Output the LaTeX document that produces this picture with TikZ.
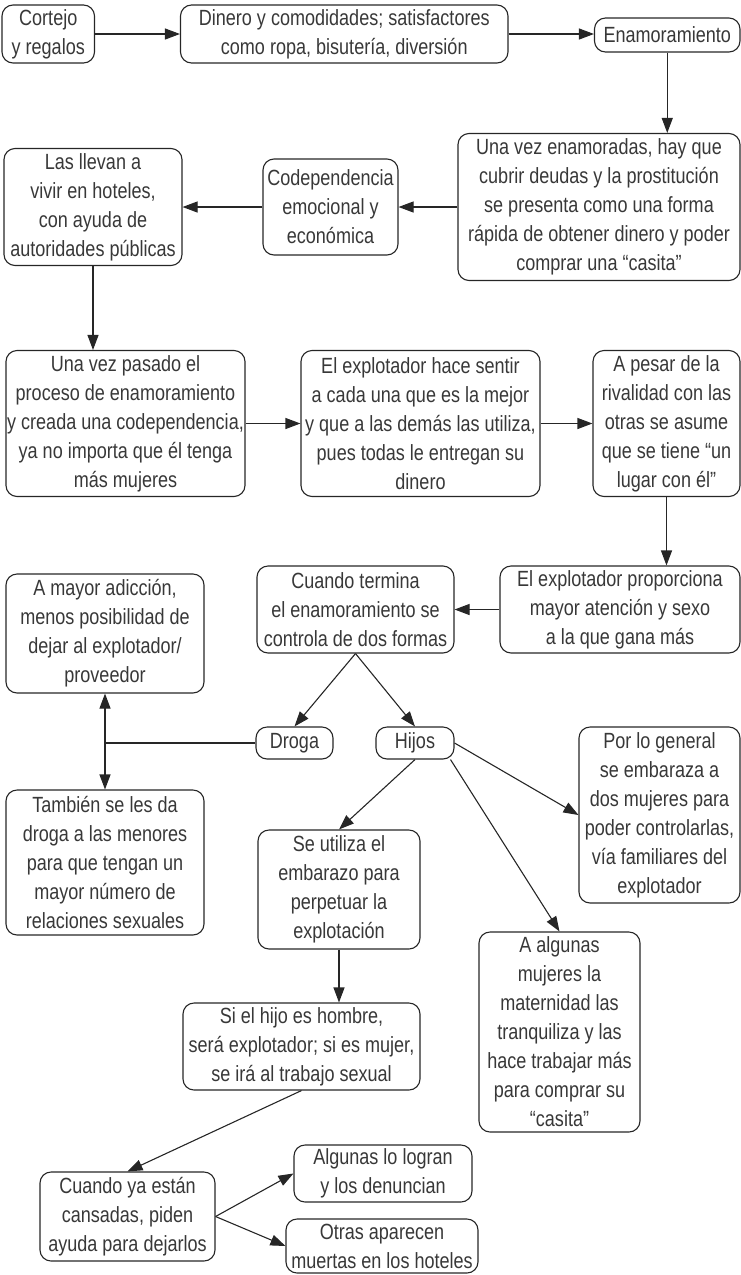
\documentclass[tikz,border=0pt]{standalone}
\usepackage{fontspec}
\setmainfont[FakeStretch=0.82]{Liberation Sans}
\usetikzlibrary{arrows.meta}
\begin{document}
\begin{tikzpicture}[x=1pt,y=-1pt,
  every node/.style={text=black!78},
  box/.style={draw=black!85, line width=1.1pt, rounded corners=11pt, align=center, inner sep=0pt,
    font=\fontsize{22}{29}\selectfont},
  arr/.style={draw=black!85, line width=1.1pt, -{Triangle[length=15pt,width=11pt]}},
  ln/.style={draw=black!85, line width=1.1pt}]
\useasboundingbox (0,0) rectangle (741,1275);
\node[box, minimum width=92.5, minimum height=58] (cortejo) at (48.25,34) {Cortejo\\y regalos};
\node[box, minimum width=327.5, minimum height=58] (dinero) at (344.25,34) {Dinero y comodidades; satisfactores\\como ropa, bisutería, diversión};
\node[box, minimum width=145.5, minimum height=34] (enam) at (667.25,35) {Enamoramiento};
\node[box, minimum width=282, minimum height=147] (unavez) at (599,207) {Una vez enamoradas, hay que\\cubrir deudas y la prostitución\\se presenta como una forma\\rápida de obtener dinero y poder\\comprar una “casita”};
\node[box, minimum width=135, minimum height=96] (codep) at (330.5,207) {Codependencia\\emocional y\\económica};
\node[box, minimum width=178, minimum height=117] (llevan) at (93,207) {Las llevan a\\vivir en hoteles,\\con ayuda de\\autoridades públicas};
\node[box, minimum width=239, minimum height=146] (pasado) at (125.5,423.5) {Una vez pasado el\\proceso de enamoramiento\\y creada una codependencia,\\ya no importa que él tenga\\más mujeres};
\node[box, minimum width=239, minimum height=146] (sentir) at (420.5,423.5) {El explotador hace sentir\\a cada una que es la mejor\\y que a las demás las utiliza,\\pues todas le entregan su\\dinero};
\node[box, minimum width=147, minimum height=146] (pesar) at (666.5,423.5) {A pesar de la\\rivalidad con las\\otras se asume\\que se tiene “un\\lugar con él”};
\node[box, minimum width=240, minimum height=87] (prop) at (620,609.5) {El explotador proporciona\\mayor atención y sexo\\a la que gana más};
\node[box, minimum width=197, minimum height=87] (termina) at (355.5,609.5) {Cuando termina\\el enamoramiento se\\controla de dos formas};
\node[box, minimum width=198, minimum height=119] (mayor) at (105,633.5) {A mayor adicción,\\menos posibilidad de\\dejar al explotador/\\proveedor};
\node[box, minimum width=77, minimum height=32] (droga) at (294.5,743) {Droga};
\node[box, minimum width=78, minimum height=32] (hijos) at (415,743) {Hijos};
\node[box, minimum width=161, minimum height=176] (porlo) at (659.5,815) {Por lo general\\se embaraza a\\dos mujeres para\\poder controlarlas,\\vía familiares del\\explotador};
\node[box, minimum width=198, minimum height=145] (tambien) at (105,862.5) {También se les da\\droga a las menores\\para que tengan un\\mayor número de\\relaciones sexuales};
\node[box, minimum width=162, minimum height=119] (seutil) at (339,889.5) {Se utiliza el\\embarazo para\\perpetuar la\\explotación};
\node[box, minimum width=161, minimum height=200] (algunas) at (559.5,1032) {A algunas\\mujeres la\\maternidad las\\tranquiliza y las\\hace trabajar más\\para comprar su\\“casita”};
\node[box, minimum width=237, minimum height=87] (sielhijo) at (301.5,1046.5) {Si el hijo es hombre,\\será explotador; si es mujer,\\se irá al trabajo sexual};
\node[box, minimum width=175, minimum height=89] (cuandoya) at (127.5,1216.5) {Cuando ya están\\cansadas, piden\\ayuda para dejarlos};
\node[box, minimum width=178, minimum height=57] (logran) at (383,1173.5) {Algunas lo logran\\y los denuncian};
\node[box, minimum width=192, minimum height=54] (otras) at (382,1246) {Otras aparecen\\muertas en los hoteles};
% connectors
\draw[arr] (cortejo.east) -- (dinero.west);
\draw[arr] (dinero.east) -- (enam.west |- dinero.east);
\draw[arr] (enam.south) -- (enam.south |- unavez.north);
\draw[arr] (unavez.west) -- (codep.east);
\draw[arr] (codep.west) -- (llevan.east);
\draw[arr] (llevan.south) -- (llevan.south |- pasado.north);
\draw[arr] (pasado.east) -- (sentir.west);
\draw[arr] (sentir.east) -- (pesar.west);
\draw[arr] (pesar.south) -- (pesar.south |- prop.north);
\draw[arr] (prop.west) -- (termina.east);
\draw[arr] (termina.south) -- (droga.north);
\draw[arr] (termina.south) -- (hijos.north);
\coordinate (j) at (mayor.south |- droga.west);
\draw[ln] (droga.west) -- (j);
\draw[arr] (j) -- (mayor.south);
\draw[arr] (j) -- (tambien.north);
\draw[arr] (hijos.south) -- (seutil.north);
\draw[arr] (hijos.east) -- (porlo.west);
\draw[arr] (hijos.-25) -- (algunas.north);
\draw[arr] (seutil.south) -- (seutil.south |- sielhijo.north);
\draw[arr] (sielhijo.south) -- (cuandoya.north);
\draw[arr] (cuandoya.east) -- (logran.west);
\draw[arr] (cuandoya.east) -- (otras.west);
\end{tikzpicture}
\end{document}
